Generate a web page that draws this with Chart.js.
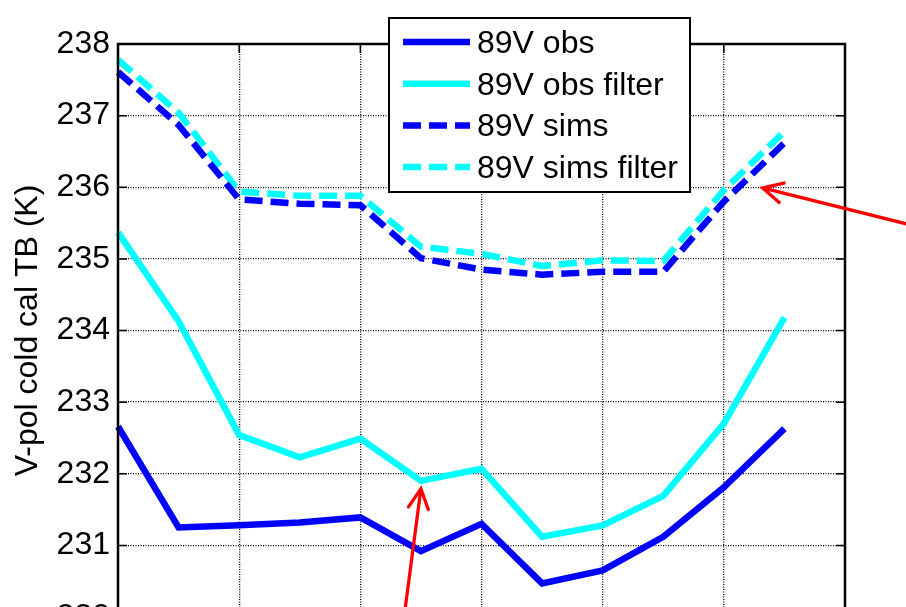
<!DOCTYPE html>
<html>
<head>
<meta charset="utf-8">
<title>89V cold cal TB</title>
<script src="https://cdn.jsdelivr.net/npm/chart.js@4.4.0/dist/chart.umd.min.js"></script>
<style>
    html, body { margin: 0; padding: 0; overflow: hidden; background: #fff; }
    canvas { display: block; }
</style>
</head>
<body>
<canvas id="coldCalChart" width="906" height="660"></canvas>
<script>
// Chart data (x positions and V-pol cold cal brightness temperatures, K)
const scanPositions = [0, 1, 2, 3, 4, 5, 6, 7, 8, 9, 10, 11];
const obs89V = [232.66, 231.25, 231.28, 231.32, 231.39, 230.92, 231.30, 230.47, 230.65, 231.12, 231.81, 232.63];
const obsFilter89V = [235.37, 234.13, 232.54, 232.23, 232.49, 231.90, 232.07, 231.12, 231.28, 231.69, 232.70, 234.18];
const sims89V = [237.61, 236.87, 235.83, 235.77, 235.75, 235.01, 234.85, 234.78, 234.82, 234.82, 235.80, 236.62];
const simsFilter89V = [237.78, 237.04, 235.94, 235.88, 235.88, 235.17, 235.07, 234.90, 234.98, 234.97, 235.96, 236.78];
const seriesNames = ['89V obs', '89V obs filter', '89V sims', '89V sims filter'];
const yTicks = [230, 231, 232, 233, 234, 235, 236, 237, 238];
const xTicks = [0, 2, 4, 6, 8, 10, 12];

// Red annotation arrows, in data units (tip and tail)
const arrows = [
    { tip: [10.64, 235.99], tail: [13.1, 235.47] },
    { tip: [5.0, 231.79], tail: [4.66, 229.6] }
];

const FONT = '"Liberation Sans", Arial, sans-serif';
const BLUE = '#0000FF';
const CYAN = '#00FFFF';

function toPoints(values) {
    return values.map((v, i) => ({ x: scanPositions[i], y: v }));
}

// Frame and inward tick marks, MATLAB style
const framePlugin = {
    id: 'frame',
    afterDatasetsDraw(chart) {
        const ctx = chart.ctx;
        const a = chart.chartArea;
        const xs = chart.scales.x;
        const ys = chart.scales.y;
        const len = 9;
        ctx.save();
        ctx.strokeStyle = '#000';
        ctx.lineWidth = 1.5;
        ctx.beginPath();
        xTicks.forEach(t => {
            const px = xs.getPixelForValue(t);
            ctx.moveTo(px, a.top); ctx.lineTo(px, a.top + len);
            ctx.moveTo(px, a.bottom); ctx.lineTo(px, a.bottom - len);
        });
        yTicks.forEach(t => {
            const py = ys.getPixelForValue(t);
            ctx.moveTo(a.left, py); ctx.lineTo(a.left + len, py);
            ctx.moveTo(a.right, py); ctx.lineTo(a.right - len, py);
        });
        ctx.stroke();
        ctx.lineWidth = 2.5;
        ctx.strokeRect(a.left, a.top, a.right - a.left, a.bottom - a.top);
        ctx.restore();
    }
};

// Legend box (overlaps the top of the axes) and the red arrows
const overlayPlugin = {
    id: 'overlay',
    afterDraw(chart) {
        const ctx = chart.ctx;
        const xs = chart.scales.x;
        const ys = chart.scales.y;
        ctx.save();

        // arrows
        ctx.strokeStyle = '#FF0000';
        ctx.lineWidth = 3.3;
        ctx.lineCap = 'round';
        arrows.forEach(ar => {
            const tx = xs.getPixelForValue(ar.tip[0]);
            const ty = ys.getPixelForValue(ar.tip[1]);
            const sx = xs.getPixelForValue(ar.tail[0]);
            const sy = ys.getPixelForValue(ar.tail[1]);
            const ang = Math.atan2(sy - ty, sx - tx);
            const head = 22;
            const spread = 27 * Math.PI / 180;
            ctx.beginPath();
            ctx.moveTo(sx, sy);
            ctx.lineTo(tx, ty);
            ctx.moveTo(tx + head * Math.cos(ang - spread), ty + head * Math.sin(ang - spread));
            ctx.lineTo(tx, ty);
            ctx.lineTo(tx + head * Math.cos(ang + spread), ty + head * Math.sin(ang + spread));
            ctx.stroke();
        });

        // legend
        const box = { x: 389, y: 18, w: 301, h: 174 };
        ctx.fillStyle = '#fff';
        ctx.fillRect(box.x, box.y, box.w, box.h);
        ctx.strokeStyle = '#000';
        ctx.lineWidth = 2;
        ctx.lineCap = 'butt';
        ctx.strokeRect(box.x, box.y, box.w, box.h);
        ctx.font = '32px ' + FONT;
        ctx.textBaseline = 'middle';
        ctx.textAlign = 'left';
        chart.data.datasets.forEach((ds, i) => {
            const cy = 42 + i * 41.7;
            ctx.strokeStyle = ds.borderColor;
            ctx.lineWidth = ds.borderWidth;
            ctx.setLineDash(ds.borderDash || []);
            ctx.beginPath();
            ctx.moveTo(403, cy);
            ctx.lineTo(470, cy);
            ctx.stroke();
            ctx.setLineDash([]);
            ctx.fillStyle = '#000';
            ctx.fillText(ds.label, 477, cy + 2);
        });
        ctx.restore();
    }
};

function inicializarGrafico() {
    const ctx = document.getElementById('coldCalChart').getContext('2d');
    const seriesValues = [obs89V, obsFilter89V, sims89V, simsFilter89V];
    const colors = [BLUE, CYAN, BLUE, CYAN];
    const dashes = [[], [], [18, 8], [18, 8]];

    new Chart(ctx, {
        type: 'line',
        data: {
            datasets: seriesValues.map((vals, i) => ({
                label: seriesNames[i],
                data: toPoints(vals),
                borderColor: colors[i],
                borderWidth: 6.5,
                borderDash: dashes[i],
                pointRadius: 0,
                tension: 0,
                fill: false,
                clip: false
            }))
        },
        options: {
            responsive: false,
            animation: false,
            layout: { padding: { top: 44, right: 61, bottom: 0, left: 0 } },
            plugins: {
                legend: { display: false },
                tooltip: { enabled: false }
            },
            scales: {
                x: {
                    type: 'linear',
                    min: 0,
                    max: 12,
                    afterBuildTicks: scale => { scale.ticks = xTicks.map(v => ({ value: v })); },
                    afterFit: scale => { scale.height = 43; },
                    ticks: { display: false },
                    grid: { color: '#000', lineWidth: 1.3, drawTicks: false },
                    border: { display: false, dash: [1, 1.5] }
                },
                y: {
                    min: 230,
                    max: 238,
                    afterBuildTicks: scale => { scale.ticks = yTicks.map(v => ({ value: v })); },
                    afterFit: scale => { scale.width = 118; },
                    ticks: {
                        color: '#000',
                        padding: 8,
                        font: { family: FONT, size: 32 }
                    },
                    title: {
                        display: true,
                        text: 'V-pol cold cal TB (K)',
                        color: '#000',
                        font: { family: FONT, size: 32 },
                        padding: { top: 9, bottom: 0 }
                    },
                    grid: { color: '#000', lineWidth: 1.3, drawTicks: false },
                    border: { display: false, dash: [1, 1.5] }
                }
            }
        },
        plugins: [framePlugin, overlayPlugin]
    });
}

document.addEventListener('DOMContentLoaded', function() {
    inicializarGrafico();
});
</script>
</body>
</html>
